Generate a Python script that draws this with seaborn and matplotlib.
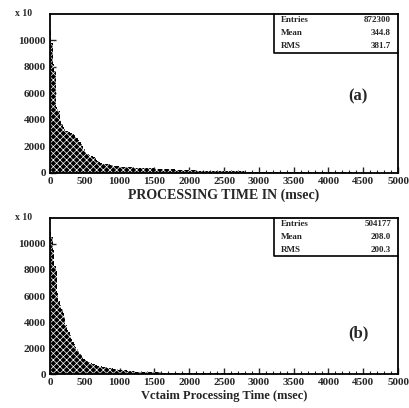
import numpy as np
import matplotlib
matplotlib.use("Agg")
import matplotlib.pyplot as plt
import seaborn as sns

# bin edges: 20 msec bins up to 1000, then 100 msec bins up to 5000
fine_edges = list(range(0, 1001, 20))
coarse_edges = list(range(1100, 5001, 100))
edges = fine_edges + coarse_edges

# panel (a) heights (units of x10 entries)
counts_a = [
    10700, 9800, 8200, 7700, 5000, 4800, 4700, 4000, 3700, 3500,
    3300, 3200, 3150, 3100, 3050, 3000, 2950, 2850, 2750, 2650,
    2500, 2350, 2200, 2000, 1800, 1600, 1450, 1400, 1350, 1300,
    1250, 1200, 1100, 1000, 900, 800, 750, 700, 700, 650,
    700, 650, 650, 600, 600, 550, 550, 500, 500, 500,
    450, 420, 400, 380, 350, 320, 300, 280, 250, 230,
    200, 180, 170, 160, 150, 140, 130, 120, 110, 100,
    90, 85, 80, 75, 70, 65, 60, 55, 50, 50,
    45, 45, 40, 40, 35, 35, 30, 30, 30, 25,
]

# panel (b) heights
counts_b = [
    10900, 10500, 9500, 8300, 8000, 6200, 5600, 5300, 5000, 4700,
    4400, 3800, 3400, 3200, 3000, 2700, 2500, 2300, 2100, 1900,
    1750, 1600, 1450, 1300, 1200, 1100, 1000, 950, 900, 850,
    800, 750, 700, 680, 650, 620, 600, 580, 560, 540,
    520, 500, 480, 460, 440, 420, 400, 380, 360, 340,
    300, 250, 200, 170, 150, 130, 120, 110, 100, 90,
    80, 75, 70, 65, 60, 55, 50, 50, 45, 45,
    40, 40, 35, 35, 30, 30, 30, 25, 25, 25,
    20, 20, 20, 20, 15, 15, 15, 15, 15, 15,
]

stats_a = [("Entries", "872300"), ("Mean", "344.8"), ("RMS", "381.7")]
stats_b = [("Entries", "504177"), ("Mean", "208.0"), ("RMS", "200.3")]

xticks = list(range(0, 5001, 500))
yticks = list(range(0, 10001, 2000))

sns.set_style("ticks")
plt.rcParams['font.family'] = ['Liberation Serif', 'DejaVu Serif']
plt.rcParams['font.weight'] = 'bold'
plt.rcParams['hatch.color'] = 'white'
plt.rcParams['hatch.linewidth'] = 0.5

centers = [(edges[i] + edges[i + 1]) / 2 for i in range(len(edges) - 1)]

fig = plt.figure(figsize=(4.10, 4.08), dpi=100)
ax_a = fig.add_axes([0.122, 0.576, 0.849, 0.390])
ax_b = fig.add_axes([0.122, 0.083, 0.849, 0.383])


def draw_panel(ax, counts, stats, tag, xlabel, xl_size):
    sns.histplot(x=centers, weights=counts, bins=edges, ax=ax,
                 color='black', alpha=1, edgecolor='white', linewidth=0,
                 hatch='xxxxx')
    ax.set_xlim(0, 5000)
    ax.set_ylim(0, 12000)
    ax.set_xticks(xticks)
    ax.set_yticks(yticks)
    ax.set_xticks(range(0, 5001, 100), minor=True)
    ax.tick_params(axis='both', which='major', direction='in', length=4,
                   width=1, labelsize=8, pad=3)
    ax.tick_params(axis='x', which='minor', direction='in', length=2, width=0.8)
    for lbl in ax.get_xticklabels() + ax.get_yticklabels():
        lbl.set_fontweight('bold')
    for s in ax.spines.values():
        s.set_linewidth(1.3)
        s.set_color('black')
    ax.set_ylabel('')
    ax.set_xlabel(xlabel, fontsize=xl_size, fontweight='bold', labelpad=2)
    ax.text(-0.10, 1.0, 'x 10', transform=ax.transAxes, fontsize=7,
            fontweight='bold', ha='left', va='center')
    # stats box
    bx0, bx1, by0 = 0.643, 1.0, 0.755
    ax.plot([bx0, bx0, bx1], [1.0, by0, by0], transform=ax.transAxes,
            color='black', lw=1.2, clip_on=False)
    rows = len(stats)
    for i, (k, v) in enumerate(stats):
        yy = 1.0 - (i + 0.5) * (1.0 - by0) / rows
        ax.text(bx0 + 0.02, yy, k, transform=ax.transAxes, fontsize=6.5,
                fontweight='bold', va='center', ha='left')
        ax.text(bx1 - 0.02, yy, v, transform=ax.transAxes, fontsize=6.5,
                fontweight='bold', va='center', ha='right')
    ax.text(0.885, tag[1], tag[0], transform=ax.transAxes, fontsize=12,
            fontweight='bold', ha='center', va='center')


draw_panel(ax_a, counts_a, stats_a, ('(a)', 0.48), 'PROCESSING TIME IN (msec)', 10)
draw_panel(ax_b, counts_b, stats_b, ('(b)', 0.26), 'Vctaim Processing Time (msec)', 9)

fig.savefig('out.png', dpi=100)
